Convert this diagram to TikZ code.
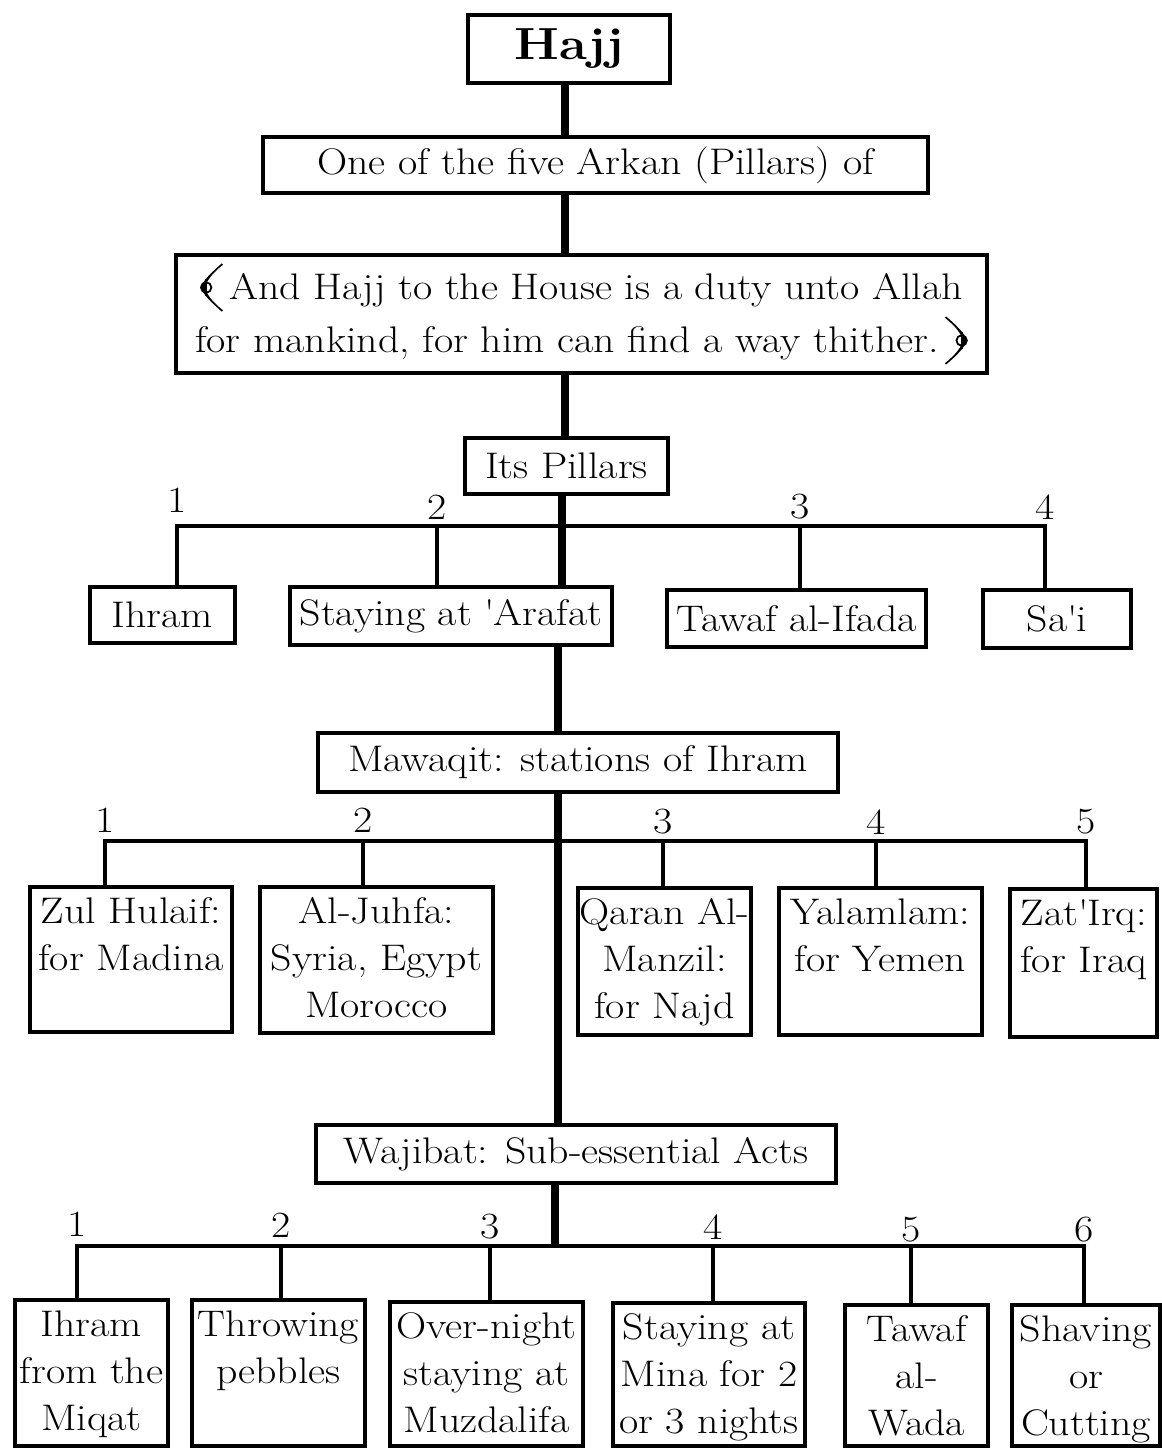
\documentclass[tikz,border=0pt]{standalone}
\usepackage{fontspec}
\setmainfont{Latin Modern Roman}[FakeStretch=1.13]
\newcommand\fs{\fontsize{18.5}{23.5}\selectfont}
\newcommand\tbox[3]{\parbox[c][#2][t]{#1}{\centering\vspace*{5.4pt}#3\par}}
\newcommand\ornshape{%
  \fill (12,18) .. controls (6,13) and (2.5,9) .. (1.5,6) .. controls (2.5,3) and (6,-1) .. (12,-6)
     -- (12.6,-5.4) .. controls (7,-1) and (4.2,3) .. (3.6,6) .. controls (4.2,9) and (7,13) .. (12.6,17.4) -- cycle;
  \draw[line width=0.9pt] (4.2,6) circle (2.6); \draw[line width=0.9pt] (4.2,1.8) -- (4.2,10.2);}
\newcommand\ornL{\tikz[x=1pt,y=1pt,baseline=0pt]{\ornshape}}
\newcommand\ornR{\tikz[x=-1pt,y=1pt,baseline=0pt]{\ornshape}}
\begin{document}
\begin{tikzpicture}[x=0.5pt,y=-0.5pt,
  box/.style={draw, line width=2pt, fill=white, inner sep=0pt, font=\fs, align=center},
  trunk/.style={line width=3.6pt},
  branch/.style={line width=1.6pt},
  hbar/.style={line width=2.2pt, line cap=rect},
  num/.style={font=\fs, inner sep=0pt}]
\useasboundingbox[fill=white] (0,0) rectangle (1161,1449);

% trunk x positions
\coordinate (T1) at (565,0);
\coordinate (T2) at (562,0);
\coordinate (T3) at (558,0);
\coordinate (T4) at (555,0);
\coordinate (barA) at (0,526);
\coordinate (barB) at (0,841);
\coordinate (barC) at (0,1246);

% top boxes
\node[box, minimum width=101pt, minimum height=34pt] (hajj) at (569,49) {\fontsize{22.5}{28}\selectfont\bfseries Hajj};
\node[box, minimum width=332.5pt, minimum height=28pt] (arkan) at (595.5,165) {One of the five Arkan (Pillars) of};
\node[box, minimum width=405.5pt, minimum height=59pt] (quran) at (581.5,314)
  {\ornL\,And Hajj to the House is a duty unto Allah\\[1.5pt]for mankind, for him can find a way thither.\,\ornR};
\node[box, minimum width=101.5pt, minimum height=28pt] (its) at (566.5,466) {Its Pillars};

% pillars
\node[box, minimum width=72.5pt, minimum height=28pt] (ihram) at (162.5,615) {Ihram};
\node[box, minimum width=161pt, minimum height=29pt] (arafat) at (451,616) {Staying at \textquotesingle Arafat};
\node[box, minimum width=129.5pt, minimum height=28.5pt] (ifada) at (796.5,618.5) {Tawaf al-Ifada};
\node[box, minimum width=74pt, minimum height=29pt] (sai) at (1057,619) {Sa\textquotesingle i};

\node[num] (p1) at (177,500) {1};
\node[num] (p2) at (437,507) {2};
\node[num] (p3) at (800,507) {3};
\node[num] (p4) at (1045,507) {4};

% mawaqit
\node[box, minimum width=260pt, minimum height=29.5pt] (mawaqit) at (578,762.5) {Mawaqit: stations of Ihram};
\node[box] (zul) at (131,959.5) {\tbox{101pt}{72.5pt}{Zul Hulaif:\\for Madina}};
\node[box] (juhfa) at (376.5,960) {\tbox{116.5pt}{73pt}{Al-Juhfa:\\Syria, Egypt\\Morocco}};
\node[box] (qaran) at (664.5,961.5) {\tbox{86.5pt}{73.5pt}{Qaran Al-\\Manzil:\\for Najd}};
\node[box] (yalam) at (880.5,961.5) {\tbox{101.5pt}{73.5pt}{Yalamlam:\\for Yemen}};
\node[box] (zat) at (1083.5,963) {\tbox{73.5pt}{74pt}{Zat\textquotesingle Irq:\\for Iraq}};

\node[num] (m1) at (105,820) {1};
\node[num] (m2) at (363,820) {2};
\node[num] (m3) at (663,822) {3};
\node[num] (m4) at (876,822) {4};
\node[num] (m5) at (1086,822) {5};

% wajibat
\node[box, minimum width=260pt, minimum height=29pt] (wajibat) at (576,1154) {Wajibat: Sub-essential Acts};
\node[box] (w1) at (91.5,1373) {\tbox{76.5pt}{73pt}{Ihram\\from the\\Miqat}};
\node[box] (w2) at (278.5,1373) {\tbox{86.5pt}{73pt}{Throwing\\pebbles}};
\node[box] (w3) at (486.5,1374) {\tbox{96.5pt}{72pt}{Over-night\\staying at\\Muzdalifa}};
\node[box] (w4) at (709,1374.5) {\tbox{96pt}{71.5pt}{Staying at\\Mina for 2\\or 3 nights}};
\node[box] (w5) at (916.5,1375.5) {\tbox{71.5pt}{70.5pt}{Tawaf\\al-\\Wada}};
\node[box] (w6) at (1086,1375.5) {\tbox{74pt}{70.5pt}{Shaving\\or\\Cutting}};

\node[num] (s1) at (77,1224) {1};
\node[num] (s2) at (281,1225) {2};
\node[num] (s3) at (490,1227) {3};
\node[num] (s4) at (713,1227) {4};
\node[num] (s5) at (911,1230) {5};
\node[num] (s6) at (1084,1230) {6};

% trunk
\draw[trunk] (hajj.south -| T1) -- (arkan.north -| T1);
\draw[trunk] (arkan.south -| T1) -- (quran.north -| T1);
\draw[trunk] (quran.south -| T1) -- (its.north -| T1);
\draw[trunk] (its.south -| T2) -- (arafat.north -| T2);
\draw[trunk] (arafat.south -| T3) -- (mawaqit.north -| T3);
\draw[trunk] (mawaqit.south -| T3) -- (wajibat.north -| T3);
\draw[trunk] (wajibat.south -| T4) -- (T4 |- barC);

% pillars bar and drops
\draw[hbar] (p1 |- barA) -- (p4 |- barA);
\draw[branch] (p1 |- barA) -- (p1 |- ihram.north);
\draw[branch] (p2 |- barA) -- (p2 |- arafat.north);
\draw[branch] (p3 |- barA) -- (p3 |- ifada.north);
\draw[branch] (p4 |- barA) -- (p4 |- sai.north);

% mawaqit bar and drops
\draw[hbar] (m1 |- barB) -- (m5 |- barB);
\draw[branch] (m1 |- barB) -- (m1 |- zul.north);
\draw[branch] (m2 |- barB) -- (m2 |- juhfa.north);
\draw[branch] (m3 |- barB) -- (m3 |- qaran.north);
\draw[branch] (m4 |- barB) -- (m4 |- yalam.north);
\draw[branch] (m5 |- barB) -- (m5 |- zat.north);

% wajibat bar and drops
\draw[hbar] (s1 |- barC) -- (s6 |- barC);
\draw[branch] (s1 |- barC) -- (s1 |- w1.north);
\draw[branch] (s2 |- barC) -- (s2 |- w2.north);
\draw[branch] (s3 |- barC) -- (s3 |- w3.north);
\draw[branch] (s4 |- barC) -- (s4 |- w4.north);
\draw[branch] (s5 |- barC) -- (s5 |- w5.north);
\draw[branch] (s6 |- barC) -- (s6 |- w6.north);
\end{tikzpicture}
\end{document}
